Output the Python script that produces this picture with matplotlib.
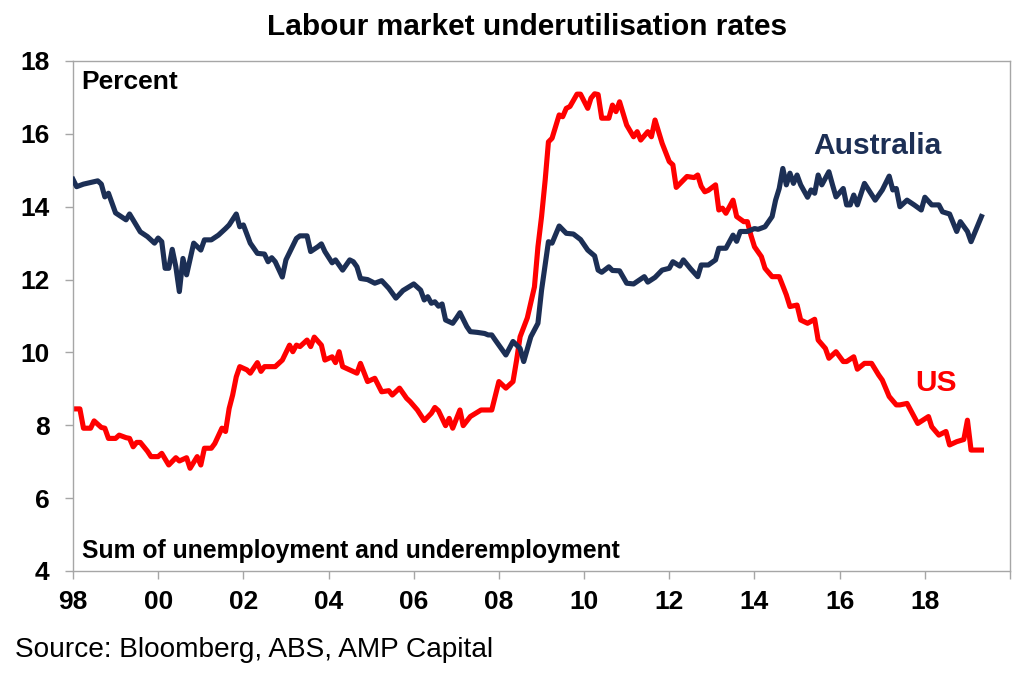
import matplotlib
matplotlib.use("Agg")
import matplotlib.pyplot as plt
import pandas as pd

FONT = ['Liberation Sans', 'DejaVu Sans']
plt.rcParams['font.family'] = FONT

title = "Labour market underutilisation rates"
source = "Source: Bloomberg, ABS, AMP Capital"
y_label = "Percent"
note = "Sum of unemployment and underemployment"
au_name = "Australia"
us_name = "US"

au_dates = ["1998-01", "1998-02", "1998-04", "1998-08", "1998-09", "1998-10", "1998-11",
            "1999-01", "1999-04", "1999-05", "1999-08", "1999-10", "1999-12",
            "2000-01", "2000-02", "2000-03", "2000-04", "2000-05", "2000-06", "2000-07",
            "2000-08", "2000-09", "2000-11",
            "2001-01", "2001-02", "2001-04", "2001-06", "2001-08", "2001-09", "2001-11", "2001-12",
            "2002-01", "2002-03", "2002-05", "2002-07", "2002-08", "2002-09", "2002-10", "2002-12",
            "2003-01", "2003-04", "2003-05", "2003-07", "2003-08", "2003-10", "2003-11", "2003-12",
            "2004-02", "2004-03", "2004-05", "2004-07", "2004-08", "2004-09", "2004-10", "2004-12",
            "2005-02", "2005-04", "2005-06", "2005-08", "2005-10", "2005-11",
            "2006-01", "2006-03", "2006-04", "2006-05", "2006-06", "2006-07", "2006-08", "2006-09",
            "2006-10", "2006-12",
            "2007-01", "2007-02", "2007-04", "2007-05", "2007-07", "2007-09", "2007-10", "2007-11",
            "2007-12",
            "2008-03", "2008-05", "2008-07", "2008-08", "2008-10", "2008-12",
            "2009-01", "2009-03", "2009-04", "2009-06", "2009-08", "2009-10", "2009-12",
            "2010-02", "2010-04", "2010-05", "2010-06", "2010-08", "2010-09", "2010-11",
            "2011-01", "2011-03", "2011-06", "2011-07", "2011-09", "2011-11",
            "2012-01", "2012-02", "2012-04", "2012-05", "2012-07", "2012-09", "2012-10", "2012-12",
            "2013-02", "2013-03", "2013-05", "2013-07", "2013-08", "2013-09", "2013-11",
            "2014-01", "2014-02", "2014-04", "2014-06", "2014-07", "2014-08", "2014-09", "2014-10",
            "2014-11", "2014-12",
            "2015-01", "2015-02", "2015-04", "2015-05", "2015-06", "2015-07", "2015-08", "2015-10",
            "2015-11", "2015-12",
            "2016-02", "2016-03", "2016-04", "2016-05", "2016-06", "2016-08", "2016-11",
            "2017-01", "2017-03", "2017-04", "2017-05", "2017-06", "2017-08", "2017-10", "2017-12",
            "2018-01", "2018-03", "2018-05", "2018-06", "2018-08", "2018-10", "2018-11",
            "2019-01", "2019-02", "2019-05"]
au_values = [14.75, 14.55, 14.62, 14.71, 14.62, 14.27, 14.37,
             13.83, 13.64, 13.80, 13.31, 13.18, 13.00,
             13.14, 13.04, 12.31, 12.31, 12.83, 12.35, 11.67,
             12.58, 12.13, 13.00,
             12.81, 13.09, 13.09, 13.22, 13.40, 13.50, 13.80, 13.45,
             13.50, 13.00, 12.72, 12.70, 12.49, 12.60, 12.49, 12.07,
             12.54, 13.13, 13.20, 13.20, 12.77, 12.90, 12.98, 12.77,
             12.46, 12.54, 12.26, 12.54, 12.49, 12.35, 12.03, 12.00,
             11.90, 11.97, 11.76, 11.49, 11.70, 11.76,
             11.88, 11.71, 11.44, 11.53, 11.35, 11.39, 11.27, 11.33,
             10.89, 10.80,
             10.94, 11.09, 10.71, 10.57, 10.55, 10.52, 10.48, 10.48,
             10.34,
             9.93, 10.30, 10.11, 9.75, 10.43, 10.80,
             11.71, 13.04, 13.00, 13.47, 13.27, 13.25, 13.10,
             12.81, 12.65, 12.26, 12.20, 12.35, 12.25, 12.24,
             11.90, 11.88, 12.08, 11.93, 12.06, 12.26,
             12.31, 12.49, 12.37, 12.54, 12.30, 12.08, 12.40, 12.40,
             12.54, 12.86, 12.86, 13.22, 13.05, 13.32, 13.32,
             13.40, 13.38, 13.45, 13.73, 14.18, 14.50, 15.05, 14.60,
             14.92, 14.64,
             14.87, 14.60, 14.26, 14.46, 14.37, 14.87, 14.60, 14.96,
             14.60, 14.27,
             14.50, 14.05, 14.05, 14.32, 14.05, 14.64, 14.18,
             14.46, 14.84, 14.46, 14.50, 14.00, 14.18, 14.05, 13.91,
             14.26, 14.05, 14.05, 13.86, 13.80, 13.32, 13.59,
             13.32, 13.04, 13.73]

us_dates = ["1998-01", "1998-03", "1998-04", "1998-06", "1998-07", "1998-09", "1998-10", "1998-11",
            "1999-01", "1999-02", "1999-04", "1999-05", "1999-06", "1999-07", "1999-08", "1999-09",
            "1999-10", "1999-11",
            "2000-01", "2000-02", "2000-04", "2000-06", "2000-07", "2000-09", "2000-10", "2000-12",
            "2001-01", "2001-02", "2001-04", "2001-05", "2001-07", "2001-08", "2001-09", "2001-10",
            "2001-11", "2001-12",
            "2002-02", "2002-03", "2002-05", "2002-06", "2002-07", "2002-10", "2002-12",
            "2003-02", "2003-03", "2003-04", "2003-05", "2003-07", "2003-08", "2003-09", "2003-11",
            "2003-12",
            "2004-02", "2004-03", "2004-04", "2004-05", "2004-07", "2004-09", "2004-10", "2004-12",
            "2005-02", "2005-04", "2005-06", "2005-07", "2005-09", "2005-11", "2005-12",
            "2006-02", "2006-04", "2006-06", "2006-07", "2006-08", "2006-10", "2006-11", "2006-12",
            "2007-02", "2007-03", "2007-05", "2007-08", "2007-11",
            "2008-01", "2008-03", "2008-05", "2008-06", "2008-07", "2008-09", "2008-11", "2008-12",
            "2009-01", "2009-02", "2009-03", "2009-04", "2009-06", "2009-07", "2009-08", "2009-09",
            "2009-11", "2009-12",
            "2010-02", "2010-03", "2010-04", "2010-05", "2010-06", "2010-08", "2010-09", "2010-10",
            "2010-11",
            "2011-01", "2011-03", "2011-04", "2011-05", "2011-07", "2011-08", "2011-09", "2011-11",
            "2012-01", "2012-02", "2012-03", "2012-06", "2012-08", "2012-09", "2012-10", "2012-11",
            "2012-12",
            "2013-02", "2013-03", "2013-04", "2013-05", "2013-07", "2013-08", "2013-10", "2013-11",
            "2013-12",
            "2014-01", "2014-03", "2014-04", "2014-06", "2014-08", "2014-10", "2014-11",
            "2015-01", "2015-02", "2015-04", "2015-06", "2015-07", "2015-09", "2015-10", "2015-12",
            "2016-02", "2016-03", "2016-05", "2016-06", "2016-08", "2016-10", "2016-12",
            "2017-01", "2017-03", "2017-05", "2017-06", "2017-08", "2017-11",
            "2018-02", "2018-03", "2018-05", "2018-07", "2018-08", "2018-10", "2018-12",
            "2019-01", "2019-02", "2019-05"]
us_values = [8.45, 8.45, 7.92, 7.92, 8.12, 7.94, 7.92, 7.64,
             7.64, 7.73, 7.66, 7.64, 7.41, 7.53, 7.53, 7.41,
             7.29, 7.14,
             7.14, 7.23, 6.91, 7.11, 7.02, 7.11, 6.82, 7.14,
             6.91, 7.37, 7.37, 7.50, 7.92, 7.83, 8.46, 8.83,
             9.33, 9.61,
             9.52, 9.43, 9.72, 9.48, 9.61, 9.61, 9.79,
             10.20, 10.02, 10.20, 10.16, 10.34, 10.16, 10.42, 10.20,
             9.79,
             9.88, 9.72, 10.02, 9.61, 9.52, 9.43, 9.70, 9.20,
             9.29, 8.92, 8.95, 8.83, 9.02, 8.74, 8.65,
             8.42, 8.13, 8.33, 8.49, 8.40, 7.99, 8.19, 7.92,
             8.42, 7.99, 8.24, 8.42, 8.42,
             9.20, 9.02, 9.20, 9.79, 10.43, 10.95, 11.80, 12.90,
             13.73, 14.73, 15.78, 15.88, 16.52, 16.47, 16.70, 16.75,
             17.09, 17.09,
             16.70, 16.98, 17.10, 17.08, 16.43, 16.43, 16.79, 16.61,
             16.88,
             16.24, 15.92, 16.06, 15.83, 16.06, 15.92, 16.38, 15.74,
             15.24, 15.15, 14.53, 14.83, 14.80, 14.87, 14.56, 14.41,
             14.45,
             14.60, 13.91, 13.96, 13.82, 14.18, 13.73, 13.59, 13.59,
             13.22,
             12.90, 12.63, 12.31, 12.08, 12.08, 11.58, 11.26,
             11.30, 10.89, 10.80, 10.91, 10.34, 10.11, 9.84, 10.02,
             9.75, 9.75, 9.88, 9.54, 9.70, 9.70, 9.38,
             9.24, 8.79, 8.56, 8.56, 8.60, 8.05,
             8.24, 7.96, 7.73, 7.83, 7.46, 7.55, 7.61,
             8.14, 7.32, 7.32]

y_ticks = [4, 6, 8, 10, 12, 14, 16, 18]
x_tick_years = [1998, 2000, 2002, 2004, 2006, 2008, 2010, 2012, 2014, 2016, 2018, 2020]
x_tick_labels = ["98", "00", "02", "04", "06", "08", "10", "12", "14", "16", "18", ""]

AU_COLOR = "#1c2f55"
US_COLOR = "#ff0000"
GRAY = "#a6a6a6"

fig = plt.figure(figsize=(10.24, 6.74), dpi=100)
ax = fig.add_axes([73 / 1024, 1 - 571 / 674, 937 / 1024, 510 / 674])

au_x = pd.to_datetime(au_dates, format="%Y-%m")
us_x = pd.to_datetime(us_dates, format="%Y-%m")
ax.plot(au_x, au_values, color=AU_COLOR, lw=3.7, solid_joinstyle='round', zorder=3)
ax.plot(us_x, us_values, color=US_COLOR, lw=3.7, solid_joinstyle='round', zorder=2)

ax.set_xlim(pd.Timestamp("1998-01-01"), pd.Timestamp("2020-01-01"))
ax.set_ylim(4, 18)
ax.set_yticks(y_ticks)
ax.set_yticklabels([str(v) for v in y_ticks])
ax.set_xticks([pd.Timestamp(f"{y}-01-01") for y in x_tick_years])
ax.set_xticklabels(x_tick_labels)

for s in ax.spines.values():
    s.set_color(GRAY)
    s.set_linewidth(1.0)
ax.tick_params(axis='both', colors=GRAY, length=6, width=1.0, direction='out')
ax.tick_params(axis='y', pad=11, labelsize=19, labelcolor='black')
ax.tick_params(axis='x', pad=8, labelsize=19, labelcolor='black')
for lab in ax.get_xticklabels() + ax.get_yticklabels():
    lab.set_fontweight('bold')

ax.text(0.0085, 0.959, y_label, transform=ax.transAxes, ha='left', va='center',
        fontsize=19, fontweight='bold', color='black')
ax.text(0.0096, 0.039, note, transform=ax.transAxes, ha='left', va='center',
        fontsize=17.8, fontweight='bold', color='black')
ax.text(0.858, 0.833, au_name, transform=ax.transAxes, ha='center', va='center',
        fontsize=21.5, fontweight='bold', color=AU_COLOR)
ax.text(0.921, 0.369, us_name, transform=ax.transAxes, ha='center', va='center',
        fontsize=21.5, fontweight='bold', color=US_COLOR)

fig.text(527 / 1024, 1 - 27 / 674, title, ha='center', va='center',
         fontsize=21.5, fontweight='bold', color='black')
fig.text(15 / 1024, 1 - 650 / 674, source, ha='left', va='center',
         fontsize=20.2, color='black')

fig.savefig("out.png", dpi=100)
